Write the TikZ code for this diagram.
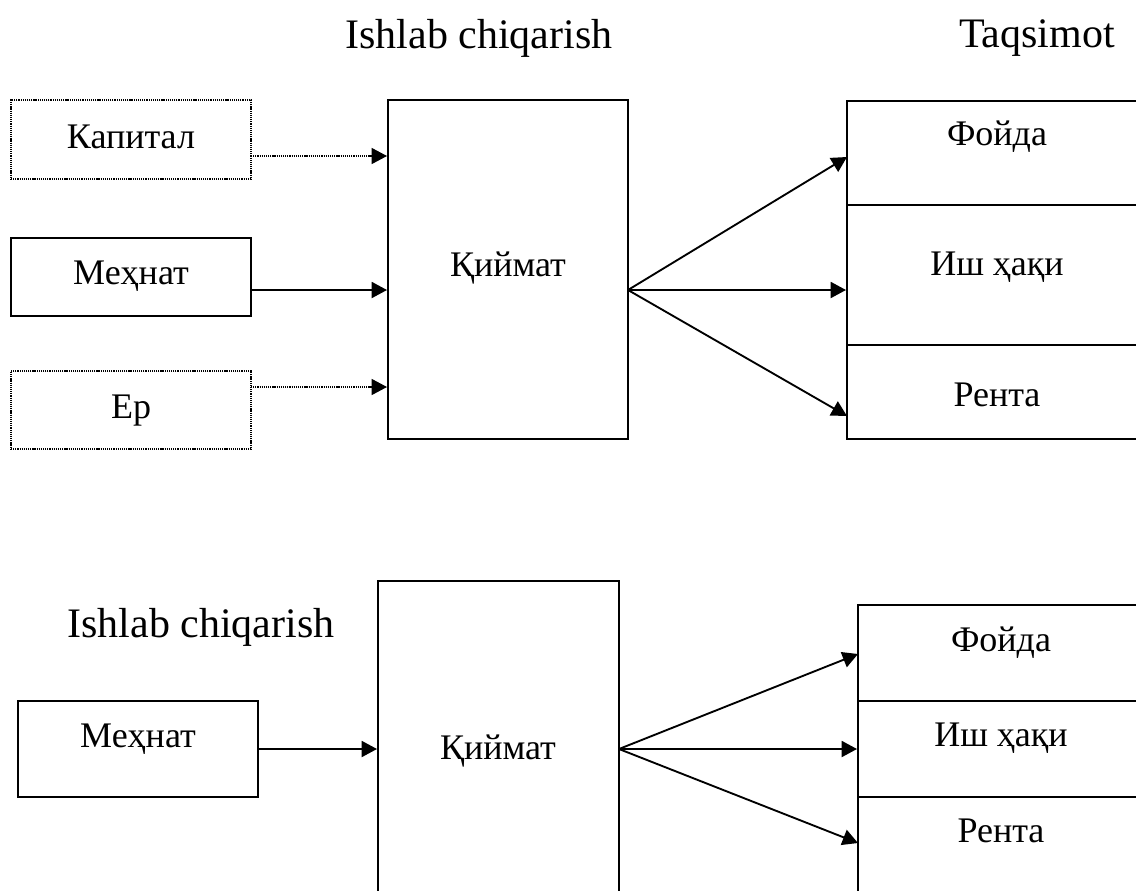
\documentclass[tikz,border=0pt]{standalone}
\usepackage{fontspec}
\setmainfont{Liberation Serif}
\usetikzlibrary{arrows.meta,fit}
\tikzset{
  box/.style={draw, line width=1.5pt, inner sep=0pt},
  dotbox/.style={draw, line width=0.9pt, dash pattern=on 0.9pt off 0.7pt, inner sep=0pt},
  lbl/.style={anchor=base, inner sep=0pt, font=\fontsize{27}{30}\selectfont},
  ttl/.style={anchor=base, inner sep=0pt, font=\fontsize{31.5}{36}\selectfont},
  arr/.style={line width=1.4pt, -{Triangle[length=11.5pt,width=12pt]}},
  dotarr/.style={line width=0.9pt, dash pattern=on 0.9pt off 0.7pt, -{Triangle[length=11.5pt,width=12pt]}},
}
\begin{document}
\begin{tikzpicture}[x=0.75pt,y=-0.75pt]
\useasboundingbox (0,0) rectangle (1136,890);
\clip (0,0) rectangle (1136,890);
\fill[white] (0,0) rectangle (1136,890);

% ---------- top diagram ----------
\node[ttl] (t1) at (479,48) {Ishlab chiqarish};
\node[ttl] (t2) at (1037,47) {Taqsimot};

\node[dotbox, fit={(11,100) (251,179)}] (kap) {};
\node[box, fit={(11,238) (251,316)}] (meh) {};
\node[dotbox, fit={(11,371) (251,449)}] (yer) {};
\node[lbl] (kapT) at (131,148) {Капитал};
\node[lbl] (mehT) at (131,284) {Меҳнат};
\node[lbl] (yerT) at (131,418) {Ер};

\node[box, fit={(388,100) (628,439)}] (qiy) {};
\node[lbl] (qiyT) at (508,276) {Қиймат};

\node[box, fit={(847,101) (1150,205)}] (foy) {};
\node[box, fit={(847,205) (1150,345)}] (ish) {};
\node[box, fit={(847,345) (1150,439)}] (ren) {};
\node[lbl] (foyT) at (997,145) {Фойда};
\node[lbl] (ishT) at (997,275) {Иш ҳақи};
\node[lbl] (renT) at (997,406) {Рента};

\coordinate (k1) at (251,156);
\coordinate (m1) at (251,290);
\coordinate (y1) at (251,387);
\draw[dotarr] (k1) -- (k1 -| qiy.west);
\draw[arr] (m1) -- (m1 -| qiy.west);
\draw[dotarr] (y1) -- (y1 -| qiy.west);

\coordinate (q1) at (628,290);
\coordinate (f1) at (847,157);
\coordinate (r1) at (847,416);
\draw[arr] (q1) -- (f1);
\draw[arr] (q1) -- (q1 -| ish.west);
\draw[arr] (q1) -- (r1);

% ---------- bottom diagram ----------
\node[ttl] (t3) at (201,637) {Ishlab chiqarish};

\node[box, fit={(18,701) (258,797)}] (meh2) {};
\node[lbl] (meh2T) at (138,747) {Меҳнат};

\node[box, fit={(378,581) (619,900)}] (qiy2) {};
\node[lbl] (qiy2T) at (498,759) {Қиймат};

\node[box, fit={(858,605) (1150,701)}] (foy2) {};
\node[box, fit={(858,701) (1150,797)}] (ish2) {};
\node[box, fit={(858,797) (1150,900)}] (ren2) {};
\node[lbl] (foy2T) at (1001,651) {Фойда};
\node[lbl] (ish2T) at (1001,746) {Иш ҳақи};
\node[lbl] (ren2T) at (1001,842) {Рента};

\coordinate (m2) at (258,749);
\draw[arr] (m2) -- (m2 -| qiy2.west);
\coordinate (q2) at (619,749);
\coordinate (f2) at (858,654);
\coordinate (r2) at (858,843);
\draw[arr] (q2) -- (f2);
\draw[arr] (q2) -- (q2 -| ish2.west);
\draw[arr] (q2) -- (r2);
\end{tikzpicture}
\end{document}
